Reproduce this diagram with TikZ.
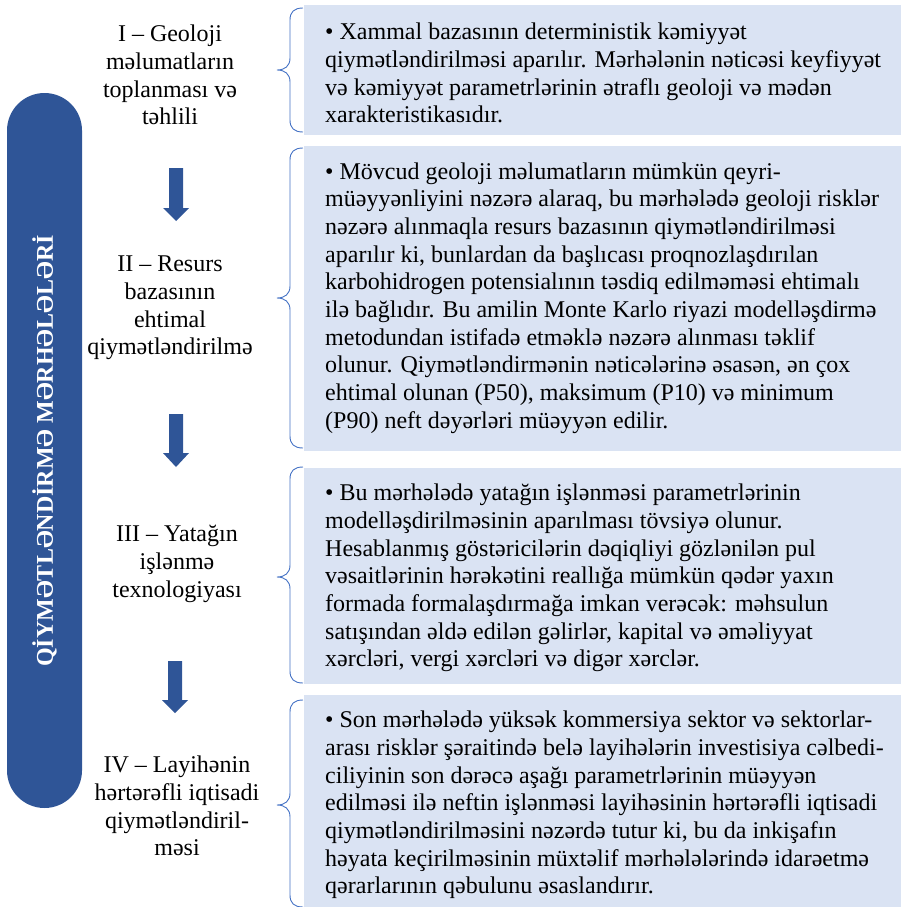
\documentclass[tikz,border=0pt]{standalone}
\usepackage{fontspec}
\setmainfont{Liberation Serif}
\definecolor{pillblue}{HTML}{2F5597}
\definecolor{boxblue}{HTML}{DAE3F3}
\definecolor{bracecol}{HTML}{4472C4}
\tikzset{
  bodytext/.style={anchor=west, align=left, inner sep=0pt, text=black,
    font=\fontsize{24}{27.7}\selectfont},
  stagelabel/.style={align=center, inner sep=0pt, text=black,
    font=\fontsize{24}{27.7}\selectfont},
  infobox/.style={fill=boxblue},
  bracepath/.style={draw=bracecol, line width=0.9pt},
  downarrow/.style={fill=pillblue},
  pilltext/.style={rotate=90, text=white, inner sep=0pt,
    font=\bfseries\fontsize{24}{24}\selectfont},
}
\newcommand\stagebrace[3]{%
  \draw[bracepath] (303,#1) .. controls (294,#1) and (290,{#1+4}) .. (290,{#1+12})
    -- (290,{#2-12}) .. controls (290,{#2-4}) and (285,#2) .. (277,#2)
    .. controls (285,#2) and (290,{#2+4}) .. (290,{#2+12})
    -- (290,{#3-12}) .. controls (290,{#3-4}) and (294,#3) .. (303,#3);}
\newcommand\blockarrow[4]{%
  \fill[downarrow] ({#1-7},#2) -- ({#1+7},#2) -- ({#1+7},#3) -- ({#1+13},#3)
    -- (#1,#4) -- ({#1-13},#3) -- ({#1-7},#3) -- cycle;}
\begin{document}
\begin{tikzpicture}[x=1pt,y=-1pt]
\useasboundingbox (0,0) rectangle (901,907);
% pill
\fill[pillblue, rounded corners=37.5pt] (7,93) rectangle (82,808);
\node[pilltext] (title) at (44.5,451) {QİYMƏTLƏNDİRMƏ MƏRHƏLƏLƏRİ};
% boxes
\fill[infobox] (304,5) rectangle (901,135);
\fill[infobox] (304,146) rectangle (901,451);
\fill[infobox] (304,468) rectangle (901,684);
\fill[infobox] (304,695) rectangle (901,907);
% braces
\stagebrace{8}{70}{132}
\stagebrace{148}{298}{448}
\stagebrace{467}{577}{683}
\stagebrace{700}{805}{907}
% arrows
\blockarrow{176}{168}{208}{221}
\blockarrow{176}{414}{453}{467}
\blockarrow{175}{661}{700}{713}
% labels
\node[stagelabel] (l1) at (170,75) {I – Geoloji\\məlumatların\\toplanması və\\təhlili};
\node[stagelabel] (l2) at (170,308) {II – Resurs\\bazasının\\ehtimal\\qiymətləndirilmə};
\node[stagelabel] (l3) at (177,564) {III – Yatağın\\işlənmə\\texnologiyası};
\node[stagelabel] (l4) at (177,806) {IV – Layihənin\\hərtərəfli iqtisadi\\qiymətləndiril-\\məsi};
% texts
\node[bodytext] (t1) at (325,73) {• Xammal bazasının deterministik kəmiyyət\\
qiymətləndirilməsi aparılır. Mərhələnin nəticəsi keyfiyyət\\
və kəmiyyət parametrlərinin ətraflı geoloji və mədən\\
xarakteristikasıdır.};
\node[bodytext] (t2) at (325,298) {• Mövcud geoloji məlumatların mümkün qeyri-\\
müəyyənliyini nəzərə alaraq, bu mərhələdə geoloji risklər\\
nəzərə alınmaqla resurs bazasının qiymətləndirilməsi\\
aparılır ki, bunlardan da başlıcası proqnozlaşdırılan\\
karbohidrogen potensialının təsdiq edilməməsi ehtimalı\\
ilə bağlıdır. Bu amilin Monte Karlo riyazi modelləşdirmə\\
metodundan istifadə etməklə nəzərə alınması təklif\\
olunur. Qiymətləndirmənin nəticələrinə əsasən, ən çox\\
ehtimal olunan (P50), maksimum (P10) və minimum\\
(P90) neft dəyərləri müəyyən edilir.};
\node[bodytext] (t3) at (325,578) {• Bu mərhələdə yatağın işlənməsi parametrlərinin\\
modelləşdirilməsinin aparılması tövsiyə olunur.\\
Hesablanmış göstəricilərin dəqiqliyi gözlənilən pul\\
vəsaitlərinin hərəkətini reallığa mümkün qədər yaxın\\
formada formalaşdırmağa imkan verəcək: məhsulun\\
satışından əldə edilən gəlirlər, kapital və əməliyyat\\
xərcləri, vergi xərcləri və digər xərclər.};
\node[bodytext] (t4) at (325,805) {• Son mərhələdə yüksək kommersiya sektor və sektorlar-\\
arası risklər şəraitində belə layihələrin investisiya cəlbedi-\\
ciliyinin son dərəcə aşağı parametrlərinin müəyyən\\
edilməsi ilə neftin işlənməsi layihəsinin hərtərəfli iqtisadi\\
qiymətləndirilməsini nəzərdə tutur ki, bu da inkişafın\\
həyata keçirilməsinin müxtəlif mərhələlərində idarəetmə\\
qərarlarının qəbulunu əsaslandırır.};
\end{tikzpicture}
\end{document}
